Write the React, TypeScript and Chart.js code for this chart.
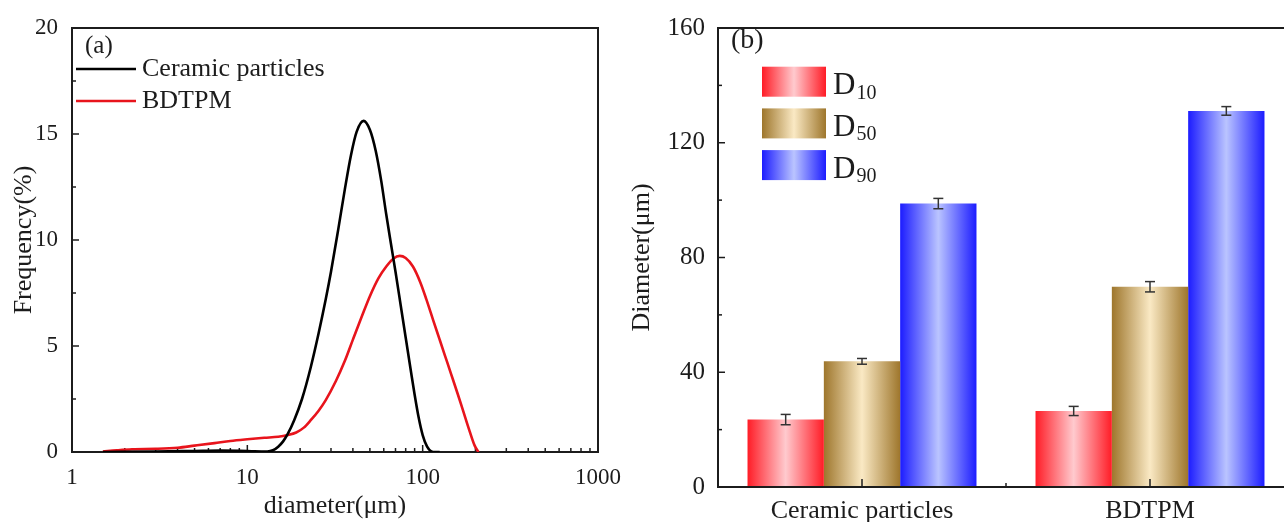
import React, { useEffect, useRef } from 'react';
import { Chart, registerables } from 'chart.js';

Chart.register(...registerables);

const SERIF = '"Liberation Serif", "Times New Roman", serif';
const INK = '#1c1c1c';

// ---------- (a) particle size distribution ----------
const diameterTicks = [1, 10, 100, 1000];
const frequencyTicks = [0, 5, 10, 15, 20];
const frequencyMinorTicks = [2.5, 7.5, 12.5, 17.5];

const ceramicDiameter = [1.5, 3, 5, 7, 9, 11, 13, 14, 15, 16, 17, 18.5, 20.5, 23, 25.5, 28, 30, 33, 36, 39, 42, 46, 50, 54, 58, 62, 66, 70, 75, 80, 85, 90, 95, 100, 106, 112, 118, 125];
const ceramicFrequency = [0, 0.02, 0.05, 0.07, 0.06, 0.03, 0.02, 0.08, 0.25, 0.5, 0.85, 1.5, 2.5, 4.0, 5.6, 7.2, 8.5, 10.5, 12.4, 14.0, 15.1, 15.62, 15.2, 14.2, 12.8, 11.2, 9.8, 8.5, 6.9, 5.4, 4.0, 2.7, 1.6, 0.8, 0.25, 0.03, 0, 0];

const bdtpmDiameter = [1.5, 1.8, 2.2, 3, 4, 5, 6.5, 8, 10, 12.5, 15, 17, 19, 21, 23, 25.5, 28, 32, 36, 40, 45, 50, 56, 62, 68, 74, 80, 88, 97, 105, 115, 125, 134, 145, 159, 170, 185, 198, 208];
const bdtpmFrequency = [0.02, 0.08, 0.13, 0.15, 0.2, 0.3, 0.42, 0.52, 0.6, 0.67, 0.72, 0.8, 0.92, 1.15, 1.5, 1.95, 2.45, 3.35, 4.3, 5.3, 6.4, 7.35, 8.2, 8.75, 9.12, 9.25, 9.15, 8.75, 8.0, 7.2, 6.2, 5.3, 4.55, 3.7, 2.7, 1.95, 1.0, 0.3, 0];

const lineLabels = ['Ceramic particles', 'BDTPM'];
const lineColors = ['#000000', '#e8141c'];

// ---------- (b) characteristic diameters ----------
const barCategories = ['Ceramic particles', 'BDTPM'];
const barSeries = ['10', '50', '90'];
const d10 = [23.5, 26.5];
const d10Err = [1.8, 1.6];
const d50 = [43.8, 69.8];
const d50Err = [1.0, 1.8];
const d90 = [98.8, 131.1];
const d90Err = [1.8, 1.5];
const diameterAxisTicks = [0, 40, 80, 120, 160];
const diameterAxisMinorTicks = [20, 60, 100, 140];

const barPalette = [
  { edge: 'rgb(255,28,38)', mid: 'rgb(255,202,206)' },
  { edge: 'rgb(158,118,44)', mid: 'rgb(250,233,196)' },
  { edge: 'rgb(28,28,255)', mid: 'rgb(186,196,255)' },
];
const CATEGORY_PCT = 0.795;

function hGrad(ctx: CanvasRenderingContext2D, x0: number, x1: number, c: { edge: string; mid: string }) {
  const g = ctx.createLinearGradient(x0, 0, x1, 0);
  g.addColorStop(0, c.edge);
  g.addColorStop(0.5, c.mid);
  g.addColorStop(1, c.edge);
  return g;
}

function seg(ctx: CanvasRenderingContext2D, x0: number, y0: number, x1: number, y1: number) {
  ctx.beginPath();
  ctx.moveTo(x0, y0);
  ctx.lineTo(x1, y1);
  ctx.stroke();
}

const leftDecor = {
  id: 'leftDecor',
  beforeDatasetsDraw(chart: any) {
    const { ctx, chartArea: a, scales } = chart;
    const x = scales.x, y = scales.y;
    ctx.save();
    ctx.strokeStyle = INK;
    ctx.lineWidth = 2;
    ctx.strokeRect(a.left, a.top, a.right - a.left, a.bottom - a.top);
    ctx.lineWidth = 1.5;
    frequencyTicks.forEach((v) => { const p = y.getPixelForValue(v); seg(ctx, a.left, p, a.left + 7, p); });
    frequencyMinorTicks.forEach((v) => { const p = y.getPixelForValue(v); seg(ctx, a.left, p, a.left + 4, p); });
    for (let k = 0; k < diameterTicks.length - 1; k++) {
      const base = diameterTicks[k];
      for (let m = 1; m <= 9; m++) {
        const p = x.getPixelForValue(base * m);
        seg(ctx, p, a.bottom, p, a.bottom - (m === 1 ? 7 : 4));
      }
    }
    ctx.restore();
  },
  afterDraw(chart: any) {
    const { ctx } = chart;
    ctx.save();
    ctx.fillStyle = INK;
    ctx.textBaseline = 'middle';
    ctx.font = `25px ${SERIF}`;
    ctx.fillText('(a)', 85, 46);
    ctx.font = `26px ${SERIF}`;
    const rows = [69, 101];
    lineLabels.forEach((lab, i) => {
      ctx.strokeStyle = lineColors[i];
      ctx.lineWidth = 2.6;
      seg(ctx, 76, rows[i], 136, rows[i]);
      ctx.fillStyle = INK;
      ctx.fillText(lab, 142, rows[i]);
    });
    ctx.restore();
  },
};

const rightDecor = {
  id: 'rightDecor',
  afterDatasetsDraw(chart: any) {
    const { ctx, chartArea: a, scales } = chart;
    const x = scales.x, y = scales.y;
    ctx.save();
    // error bars
    const errs = [d10Err, d50Err, d90Err];
    const vals = [d10, d50, d90];
    ctx.strokeStyle = '#333';
    ctx.lineWidth = 1.5;
    vals.forEach((series, di) => {
      const meta = chart.getDatasetMeta(di);
      meta.data.forEach((el: any, i: number) => {
        const yt = y.getPixelForValue(series[i] + errs[di][i]);
        const yb = y.getPixelForValue(series[i] - errs[di][i]);
        seg(ctx, el.x, yt, el.x, yb);
        seg(ctx, el.x - 5, yt, el.x + 5, yt);
        seg(ctx, el.x - 5, yb, el.x + 5, yb);
      });
    });
    // frame
    ctx.strokeStyle = INK;
    ctx.lineWidth = 2;
    ctx.strokeRect(a.left, a.top, a.right - a.left, a.bottom - a.top);
    ctx.lineWidth = 1.5;
    diameterAxisTicks.forEach((v) => { const p = y.getPixelForValue(v); seg(ctx, a.left, p, a.left + 7, p); });
    diameterAxisMinorTicks.forEach((v) => { const p = y.getPixelForValue(v); seg(ctx, a.left, p, a.left + 4, p); });
    barCategories.forEach((_, i) => {
      const p = x.getPixelForValue(i);
      seg(ctx, p, a.bottom, p, a.bottom - 8);
      const half = (a.right - a.left) / barCategories.length / 2;
      seg(ctx, p + half, a.bottom, p + half, a.bottom - 4);
    });
    ctx.restore();
  },
  afterDraw(chart: any) {
    const { ctx } = chart;
    ctx.save();
    ctx.fillStyle = INK;
    ctx.textBaseline = 'middle';
    ctx.font = `28px ${SERIF}`;
    ctx.fillText('(b)', 121, 41);
    const boxX = 152, boxW = 64, boxH = 30;
    barSeries.forEach((sub, i) => {
      const top = 66.7 + i * 41.7;
      ctx.fillStyle = hGrad(ctx, boxX, boxX + boxW, barPalette[i]);
      ctx.fillRect(boxX, top, boxW, boxH);
      ctx.fillStyle = INK;
      ctx.textBaseline = 'alphabetic';
      ctx.font = `31px ${SERIF}`;
      const baseY = top + 27.5;
      ctx.fillText('D', 223, baseY);
      const dw = ctx.measureText('D').width;
      ctx.font = `20px ${SERIF}`;
      ctx.fillText(sub, 223 + dw + 1, baseY + 4.5);
    });
    ctx.restore();
  },
};

const barFill = (si: number) => (c: any) => {
  const chart = c.chart;
  const area = chart.chartArea;
  if (c.type !== 'data' || !area) return barPalette[si].edge;
  const xs = chart.scales.x;
  const catW = (area.right - area.left) / barCategories.length;
  const bw = (catW * CATEGORY_PCT) / barSeries.length;
  const left = xs.getPixelForValue(c.dataIndex) - (bw * barSeries.length) / 2 + c.datasetIndex * bw;
  return hGrad(chart.ctx, left, left + bw, barPalette[si]);
};

export default function App() {
  const leftRef = useRef<HTMLCanvasElement | null>(null);
  const rightRef = useRef<HTMLCanvasElement | null>(null);

  useEffect(() => {
    const tickFont = (s: number) => ({ family: SERIF, size: s });
    const left = new Chart(leftRef.current as HTMLCanvasElement, {
      type: 'line',
      data: {
        datasets: [
          { label: lineLabels[0], data: ceramicDiameter.map((d, i) => ({ x: d, y: ceramicFrequency[i] })), borderColor: lineColors[0], borderWidth: 2.6, pointRadius: 0, cubicInterpolationMode: 'monotone', fill: false },
          { label: lineLabels[1], data: bdtpmDiameter.map((d, i) => ({ x: d, y: bdtpmFrequency[i] })), borderColor: lineColors[1], borderWidth: 2.6, pointRadius: 0, cubicInterpolationMode: 'monotone', fill: false },
        ],
      },
      options: {
        responsive: false,
        animation: false,
        devicePixelRatio: 1,
        layout: { padding: { left: 0, top: 28, right: 42, bottom: 0 } },
        plugins: { legend: { display: false }, tooltip: { enabled: false } },
        scales: {
          x: {
            type: 'logarithmic', min: 1, max: 1000,
            afterBuildTicks: (s: any) => { s.ticks = diameterTicks.map((v) => ({ value: v })); },
            afterFit: (s: any) => { s.height = 70; },
            grid: { display: false, drawTicks: false, tickLength: 0 },
            border: { display: false },
            ticks: { color: INK, font: tickFont(23), padding: 12, maxRotation: 0, autoSkip: false, callback: (v: any) => String(v) },
            title: { display: true, text: 'diameter(μm)', color: INK, font: tickFont(26), padding: { top: 0, bottom: 0 } },
          },
          y: {
            min: 0, max: 20,
            afterBuildTicks: (s: any) => { s.ticks = frequencyTicks.map((v) => ({ value: v })); },
            afterFit: (s: any) => { s.width = 72; },
            grid: { display: false, drawTicks: false, tickLength: 0 },
            border: { display: false },
            ticks: { color: INK, font: tickFont(23), padding: 14 },
            title: { display: true, text: 'Frequency(%)', color: INK, font: tickFont(26), padding: { top: 9, bottom: 0 } },
          },
        },
      } as any,
      plugins: [leftDecor],
    });

    const right = new Chart(rightRef.current as HTMLCanvasElement, {
      type: 'bar',
      data: {
        labels: barCategories,
        datasets: [d10, d50, d90].map((vals, si) => ({
          label: 'D' + barSeries[si],
          data: vals,
          backgroundColor: barFill(si),
          borderWidth: 0,
          categoryPercentage: CATEGORY_PCT,
          barPercentage: 1,
        })),
      },
      options: {
        responsive: false,
        animation: false,
        devicePixelRatio: 1,
        layout: { padding: { left: 0, top: 23, right: 26, bottom: 0 } },
        plugins: { legend: { display: false }, tooltip: { enabled: false } },
        scales: {
          x: {
            afterFit: (s: any) => { s.height = 35; },
            grid: { display: false, drawTicks: false, tickLength: 0 },
            border: { display: false },
            ticks: { color: INK, font: tickFont(26), padding: 9, maxRotation: 0, autoSkip: false },
          },
          y: {
            min: 0, max: 160,
            afterBuildTicks: (s: any) => { s.ticks = diameterAxisTicks.map((v) => ({ value: v })); },
            afterFit: (s: any) => { s.width = 108; },
            grid: { display: false, drawTicks: false, tickLength: 0 },
            border: { display: false },
            ticks: { color: INK, font: tickFont(25), padding: 13 },
            title: { display: true, text: 'Diameter(μm)', color: INK, font: tickFont(26), padding: { top: 17, bottom: 0 } },
          },
        },
      } as any,
      plugins: [rightDecor],
    });

    return () => { left.destroy(); right.destroy(); };
  }, []);

  return (
    <div style={{ position: 'fixed', left: 0, top: 0, width: 1284, height: 522, overflow: 'hidden', background: '#fff' }}>
      <canvas ref={leftRef} width={640} height={522} style={{ position: 'absolute', left: 0, top: 0, width: 640, height: 522 }} />
      <canvas ref={rightRef} width={710} height={522} style={{ position: 'absolute', left: 610, top: 0, width: 710, height: 522 }} />
    </div>
  );
}
